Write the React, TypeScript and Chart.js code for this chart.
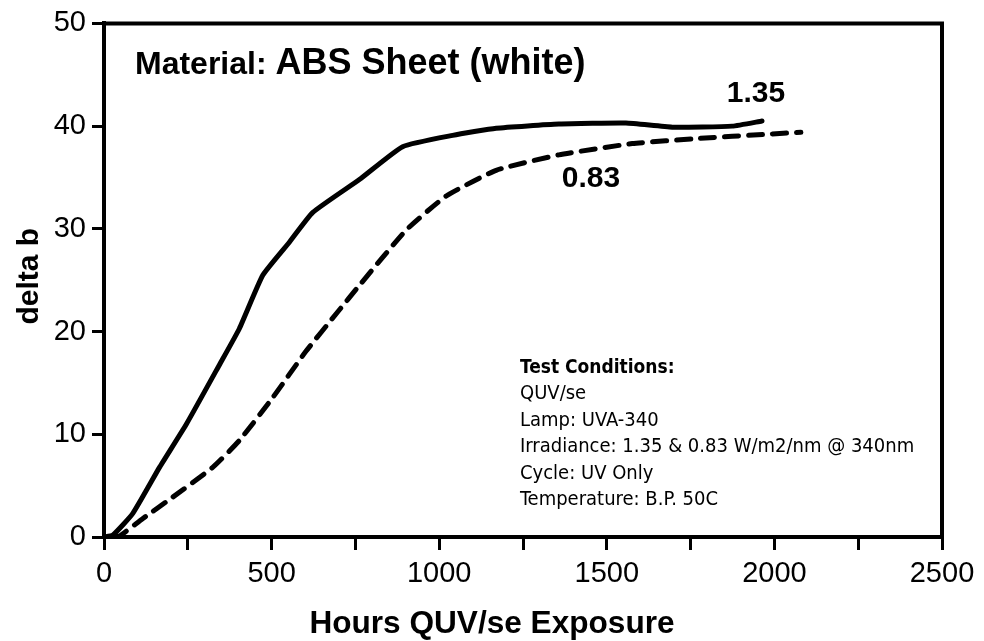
import React, { useEffect, useRef } from "react";
import { Chart, registerables } from "chart.js";

Chart.register(...registerables);

// ---- data ----
const hours135 = [0, 27, 86, 166, 246, 345, 404, 474, 553, 623, 762, 891, 1040, 1170, 1357, 1557, 1695, 1874, 1963];
const deltaB135 = [0, 0.2, 2.3, 6.8, 11.0, 16.8, 20.3, 25.5, 28.7, 31.6, 34.8, 38.0, 39.1, 39.8, 40.2, 40.3, 39.9, 40.0, 40.5];
const hours083 = [30, 47, 116, 206, 325, 404, 504, 603, 697, 762, 902, 1021, 1170, 1357, 1576, 1775, 1974, 2079];
const deltaB083 = [0, 0.1, 1.8, 3.9, 6.8, 9.4, 13.6, 18.1, 21.9, 24.5, 29.9, 33.2, 35.7, 37.2, 38.3, 38.8, 39.2, 39.4];

const seriesNames = ["1.35", "0.83"];
const seriesLabelAnchors = [
  [1945, 42.3],
  [1453, 34.1],
];
const titlePrefix = "Material:";
const titleMain = "ABS Sheet (white)";
const xAxisTitle = "Hours QUV/se Exposure";
const yAxisTitle = "delta b";
const conditionsHeader = "Test Conditions:";
const conditionsLines = [
  "QUV/se",
  "Lamp: UVA-340",
  "Irradiance: 1.35 & 0.83 W/m2/nm @ 340nm",
  "Cycle: UV Only",
  "Temperature: B.P. 50C",
];
const xMin = 0;
const xMax = 2500;
const xStep = 250;
const xLabelStep = 500;
const yMin = 0;
const yMax = 50;
const yStep = 10;

const FONT = "'Liberation Sans', Arial, Helvetica, sans-serif";
const NARROW = "'DejaVu Sans Condensed', 'Liberation Sans Narrow', sans-serif";

const annotationPlugin = {
  id: "annotations",
  afterDraw(chart: any) {
    const { ctx, chartArea } = chart;
    const xs = chart.scales.x;
    const ys = chart.scales.y;
    ctx.save();
    // top and right frame
    ctx.strokeStyle = "#000";
    ctx.lineWidth = 4;
    ctx.beginPath();
    ctx.moveTo(chartArea.left - 2, chartArea.top);
    ctx.lineTo(chartArea.right, chartArea.top);
    ctx.lineTo(chartArea.right, chartArea.bottom + 2);
    ctx.stroke();

    ctx.fillStyle = "#000";
    ctx.textBaseline = "alphabetic";
    // title
    ctx.textAlign = "left";
    ctx.font = `bold 32px ${FONT}`;
    const tx = chartArea.left + 31;
    const ty = 74;
    ctx.fillText(titlePrefix, tx, ty);
    const w1 = ctx.measureText(titlePrefix + " ").width;
    ctx.font = `bold 36px ${FONT}`;
    ctx.fillText(titleMain, tx + w1, ty);

    // series labels
    ctx.textAlign = "center";
    ctx.font = `bold 30px ${FONT}`;
    seriesNames.forEach((n, i) => {
      const [vx, vy] = seriesLabelAnchors[i];
      ctx.fillText(n, xs.getPixelForValue(vx), ys.getPixelForValue(vy));
    });

    // test conditions
    ctx.textAlign = "left";
    const cx = 520;
    let cy = 373;
    ctx.font = `bold 19px ${NARROW}`;
    ctx.fillText(conditionsHeader, cx, cy);
    ctx.font = `20px ${NARROW}`;
    conditionsLines.forEach((l) => {
      cy += 26.4;
      ctx.fillText(l, cx, cy);
    });

    // axis titles
    ctx.textAlign = "center";
    ctx.font = `bold 31.6px ${FONT}`;
    ctx.fillText(xAxisTitle, chart.width / 2, 633);
    ctx.save();
    ctx.translate(38, (chartArea.top + chartArea.bottom) / 2 - 4);
    ctx.rotate(-Math.PI / 2);
    ctx.font = `bold 30px ${FONT}`;
    ctx.fillText(yAxisTitle, 0, 0);
    ctx.restore();
    ctx.restore();
  },
};

export default function App() {
  const ref = useRef<HTMLCanvasElement | null>(null);
  useEffect(() => {
    if (!ref.current) return;
    Chart.defaults.font.family = FONT;
    Chart.defaults.color = "#000";
    const chart = new Chart(ref.current, {
      type: "line",
      data: {
        datasets: [
          {
            label: seriesNames[0],
            data: hours135.map((h, i) => ({ x: h, y: deltaB135[i] })),
            borderColor: "#000",
            borderWidth: 5,
            pointRadius: 0,
            tension: 0.15,
            borderCapStyle: "round",
            borderJoinStyle: "round",
          },
          {
            label: seriesNames[1],
            data: hours083.map((h, i) => ({ x: h, y: deltaB083[i] })),
            borderColor: "#000",
            borderWidth: 5,
            borderDash: [14, 10],
            borderCapStyle: "round",
            pointRadius: 0,
            tension: 0.15,
          },
        ],
      },
      options: {
        animation: false,
        responsive: true,
        maintainAspectRatio: false,
        layout: { padding: { top: 20, right: 42, left: 0, bottom: 0 } },
        plugins: { legend: { display: false }, tooltip: { enabled: false } },
        scales: {
          x: {
            type: "linear",
            min: xMin,
            max: xMax,
            ticks: {
              stepSize: xStep,
              autoSkip: false,
              maxRotation: 0,
              padding: 7,
              color: "#000",
              font: { size: 29, family: FONT },
              callback: (v: any) => (Number(v) % xLabelStep === 0 ? String(v) : ""),
            },
            grid: {
              drawOnChartArea: false,
              drawTicks: true,
              tickLength: 13,
              tickWidth: 3,
              tickColor: "#000",
            },
            border: { display: true, color: "#000", width: 4 },
            afterFit: (s: any) => {
              s.height = 104;
            },
          },
          y: {
            type: "linear",
            min: yMin,
            max: yMax,
            ticks: {
              stepSize: yStep,
              padding: 6,
              color: "#000",
              font: { size: 29, family: FONT },
            },
            grid: {
              drawOnChartArea: false,
              drawTicks: true,
              tickLength: 12,
              tickWidth: 3,
              tickColor: "#000",
            },
            border: { display: true, color: "#000", width: 4 },
            afterFit: (s: any) => {
              s.width = 104;
            },
          },
        },
      },
      plugins: [annotationPlugin],
    } as any);
    return () => chart.destroy();
  }, []);
  return (
    <div style={{ position: "fixed", left: 0, top: 0, width: 984, height: 641, background: "#fff" }}>
      <canvas ref={ref} />
    </div>
  );
}
